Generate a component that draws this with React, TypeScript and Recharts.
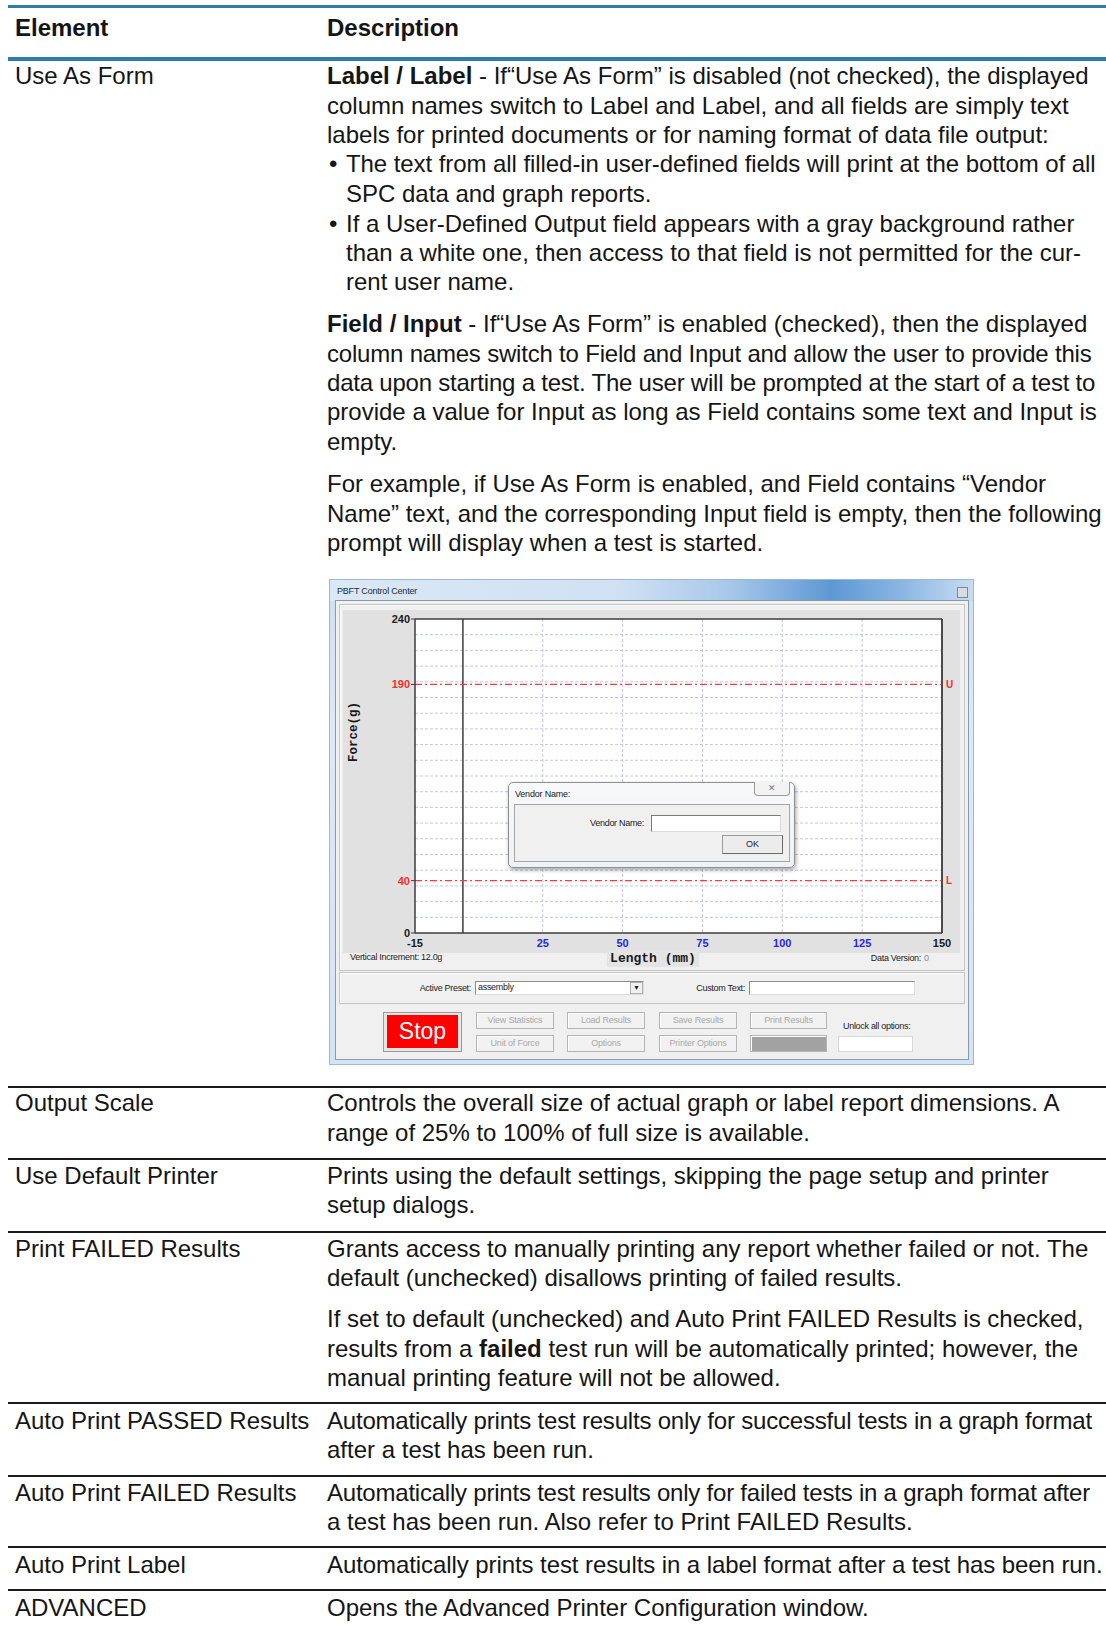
import React from 'react';
import { ComposedChart, Line, XAxis, YAxis, CartesianGrid, ReferenceLine } from 'recharts';

// graph scale of the PBFT screenshot
const lengthDomain: [number, number] = [-15, 150];
const forceDomain: [number, number] = [0, 240];
const lengthTicks = [-15, 25, 50, 75, 100, 125, 150];
const forceTicks = [0, 40, 190, 240];
const blueLengthTicks = [25, 50, 75, 100, 125];
const redForceTicks = [40, 190];
const lengthGrid = [25, 50, 75, 100, 125];
const forceGrid = [12, 24, 36, 48, 60, 72, 84, 96, 108, 120, 132, 144, 156, 168, 180, 192, 204, 216, 228];

// upper / lower force limits across the full length
const limitPoints = [
  { length: -15, upper: 190, lower: 40 },
  { length: 150, upper: 190, lower: 40 },
];

const DOC_FONT = '"Liberation Sans", Arial, Helvetica, sans-serif';
const UI_FONT = '"Liberation Sans", Arial, sans-serif';
const MONO = '"Liberation Mono", "Courier New", monospace';
const LINE = 29.3;

const LengthTick = (props: any) => {
  const { x, y, payload } = props;
  const blue = blueLengthTicks.includes(payload.value);
  return (
    <text x={x} y={y} dy="0.71em" textAnchor="middle" fill={blue ? '#2626e6' : '#1a1a1a'} fontSize={11} fontWeight="bold" fontFamily={UI_FONT}>
      {payload.value}
    </text>
  );
};

const ForceTick = (props: any) => {
  const { x, y, payload } = props;
  const red = redForceTicks.includes(payload.value);
  return (
    <text x={x} y={y} dy="0.355em" textAnchor="end" fill={red ? '#ff2a2a' : '#1a1a1a'} fontSize={11} fontWeight="bold" fontFamily={UI_FONT}>
      {payload.value}
    </text>
  );
};

const ForceLabel = (props: any) => {
  const vb = props.viewBox || { x: 0, y: 0, width: 0, height: 0 };
  const x = vb.x + 11;
  const y = vb.y + 113;
  return (
    <text x={x} y={y} transform={`rotate(-90, ${x}, ${y})`} textAnchor="middle" dominantBaseline="central" fontSize={12.5} fontWeight="bold" fontFamily={MONO} fill="#1a1a1a">
      Force(g)
    </text>
  );
};

const LengthLabel = (props: any) => {
  const vb = props.viewBox || { x: 0, y: 0, width: 0, height: 0 };
  const x = vb.x + 238;
  const y = vb.y + 25;
  return (
    <g>
      <rect x={x - 46} y={y - 8} width={92} height={17} fill="#e4e4e4" />
      <text x={x} y={y} textAnchor="middle" dominantBaseline="central" fontSize={13} fontWeight="bold" fontFamily={MONO} fill="#1a1a1a">
        Length (mm)
      </text>
    </g>
  );
};

const limitTag = (tag: string) => (props: any) => {
  if (props.index !== limitPoints.length - 1) return <g />;
  return (
    <text x={props.x + 4} y={props.y} dy="0.36em" fill="#ff2a2a" fontSize={10} fontWeight="bold" fontFamily={UI_FONT}>
      {tag}
    </text>
  );
};

const ForceGraph = () => (
  <ComposedChart width={617} height={360} data={limitPoints} margin={{ top: 9, right: 18, bottom: 0, left: 0 }}>
    <CartesianGrid fill="#ffffff" stroke="#c4c4f2" strokeDasharray="3 2" horizontalValues={forceGrid} verticalValues={lengthGrid} />
    <XAxis
      type="number"
      dataKey="length"
      domain={lengthDomain}
      ticks={lengthTicks}
      interval={0}
      height={37}
      axisLine={{ stroke: '#3c3c3c', strokeWidth: 1.5 }}
      tickLine={false}
      tickSize={0}
      tickMargin={6}
      tick={<LengthTick />}
      label={<LengthLabel />}
      allowDataOverflow
    />
    <YAxis
      type="number"
      domain={forceDomain}
      ticks={forceTicks}
      interval={0}
      width={72}
      axisLine={{ stroke: '#3c3c3c', strokeWidth: 1.5 }}
      tickLine={{ stroke: '#3c3c3c' }}
      tickSize={4}
      tickMargin={1}
      tick={<ForceTick />}
      label={<ForceLabel />}
      allowDataOverflow
    />
    <ReferenceLine x={0} stroke="#3c3c3c" strokeWidth={1.5} />
    <ReferenceLine x={150} stroke="#4a4a4a" strokeWidth={2} />
    <ReferenceLine y={240} stroke="#3c3c3c" strokeWidth={1.5} />
    <Line dataKey="upper" stroke="#ff3a3a" strokeWidth={1.3} strokeDasharray="7 3 2 3" dot={false} isAnimationActive={false} label={limitTag('U')} />
    <Line dataKey="lower" stroke="#ff3a3a" strokeWidth={1.3} strokeDasharray="7 3 2 3" dot={false} isAnimationActive={false} label={limitTag('L')} />
  </ComposedChart>
);

const abs = (left: number, top: number, width: number, height: number): React.CSSProperties => ({
  position: 'absolute', left, top, width, height, boxSizing: 'border-box',
});

const Btn = ({ x, y, w, h, text, fill }: { x: number; y: number; w: number; h: number; text?: string; fill?: string }) => (
  <div style={{ ...abs(x, y, w, h), border: '1px solid #b4b4b4', background: fill || '#f2f2f2', boxShadow: 'inset 1px 1px 0 #fff', color: '#a9a9a9', fontSize: 9, lineHeight: `${h - 2}px`, textAlign: 'center', fontFamily: UI_FONT, letterSpacing: -0.2 }}>
    {text}
  </div>
);

const UiText = ({ x, y, text, align, color }: { x: number; y: number; text: string; align?: 'left' | 'right'; color?: string }) => (
  <div style={{ position: 'absolute', top: y - 6, height: 12, lineHeight: '12px', fontSize: 9, fontFamily: UI_FONT, color: color || '#222', whiteSpace: 'nowrap', letterSpacing: -0.3, ...(align === 'right' ? { right: 1106 - x, textAlign: 'right' } : { left: x }) }}>
    {text}
  </div>
);

const Screenshot = () => (
  <>
    {/* window frame and title bar */}
    <div style={{ ...abs(329, 579, 645, 486), background: 'linear-gradient(180deg, #cddff2 0%, #dce9f6 30%, #d3e4f4 100%)', border: '1px solid #9fb8d2' }} />
    <div style={{ ...abs(330, 580, 643, 21), background: 'linear-gradient(90deg, #dbe8f5 0%, #cfe1f3 45%, #a8c8ea 62%, #5e98d4 78%, #86b3e2 88%, #c6dcf2 100%)' }} />
    <div style={{ position: 'absolute', left: 337, top: 585, fontSize: 9, lineHeight: '12px', fontFamily: UI_FONT, color: '#1d2a3a', letterSpacing: -0.2 }}>PBFT Control Center</div>
    <div style={{ ...abs(957, 587, 11, 11), border: '1px solid #7c8a98', background: '#d8dde3' }} />
    {/* client area */}
    <div style={{ ...abs(335, 600, 634, 460), background: '#f0f0f0', border: '1px solid #8c9aa8' }} />
    <div style={{ ...abs(339, 604, 626, 367), border: '1px solid #c4c4c4', boxShadow: 'inset 1px 1px 0 #fff' }} />
    <div style={{ ...abs(343, 610, 617, 343), background: '#e1e1e1' }} />
    <div style={{ position: 'absolute', left: 343, top: 610 }}>
      <ForceGraph />
    </div>
    <UiText x={350} y={957} text="Vertical Increment: 12.0g" />
    <UiText x={921} y={958} text="Data Version:" align="right" />
    <UiText x={924} y={958} text="0" color="#8a8a8a" />
    {/* preset row */}
    <div style={{ ...abs(339, 972, 626, 32), border: '1px solid #c4c4c4', boxShadow: 'inset 1px 1px 0 #fff' }} />
    <UiText x={471} y={988} text="Active Preset:" align="right" />
    <div style={{ ...abs(475, 981, 169, 14), background: '#fff', border: '1px solid #8a8a8a', borderRightColor: '#ddd', borderBottomColor: '#ddd' }} />
    <UiText x={478} y={987} text="assembly" />
    <div style={{ ...abs(630, 982, 13, 12), background: '#f0f0f0', border: '1px solid #b0b0b0', fontSize: 7, lineHeight: '10px', textAlign: 'center', color: '#222' }}>▼</div>
    <UiText x={745} y={988} text="Custom Text:" align="right" />
    <div style={{ ...abs(749, 981, 166, 14), background: '#fff', border: '1px solid #8a8a8a', borderRightColor: '#ddd', borderBottomColor: '#ddd' }} />
    {/* buttons */}
    <div style={{ ...abs(383, 1012, 79, 40), border: '1px solid #9a9a9a', background: '#e6e6e6' }} />
    <div style={{ ...abs(387, 1015, 71, 33), background: '#ff0000', color: '#fff', fontSize: 23, lineHeight: '33px', textAlign: 'center', fontFamily: UI_FONT }}>Stop</div>
    <Btn x={476} y={1012} w={78} h={17} text="View Statistics" />
    <Btn x={567} y={1012} w={78} h={17} text="Load Results" />
    <Btn x={659} y={1012} w={78} h={17} text="Save Results" />
    <Btn x={750} y={1012} w={77} h={17} text="Print Results" />
    <Btn x={476} y={1035} w={78} h={17} text="Unit of Force" />
    <Btn x={567} y={1035} w={78} h={17} text="Options" />
    <Btn x={659} y={1035} w={78} h={17} text="Printer Options" />
    <Btn x={750} y={1035} w={77} h={17} fill="#a2a2a2" />
    <UiText x={843} y={1026} text="Unlock all options:" />
    <div style={{ ...abs(838, 1036, 75, 16), background: '#fff', border: '1px solid #d8d8d8' }} />
    {/* prompt dialog */}
    <div style={{ ...abs(508, 782, 287, 86), background: 'linear-gradient(180deg, #f7f9fb 0%, #eef2f5 100%)', border: '1px solid #8e8e8e', borderRadius: 5, boxShadow: '1px 2px 4px rgba(0,0,0,0.35)', zIndex: 2 }}>
      <div style={{ position: 'absolute', left: 6, top: 5, fontSize: 9, lineHeight: '12px', fontFamily: UI_FONT, color: '#1a1a1a', letterSpacing: -0.2 }}>Vendor Name:</div>
      <div style={{ ...abs(245, -1, 36, 14), border: '1px solid #9a9a9a', borderTop: 'none', borderRadius: '0 0 4px 4px', background: '#f3f3f3', fontSize: 9, lineHeight: '12px', textAlign: 'center', color: '#777' }}>✕</div>
      <div style={{ ...abs(5, 21, 276, 58), background: '#f0f0f0', border: '1px solid #a6a6a6' }}>
        <div style={{ position: 'absolute', right: 145, top: 12, fontSize: 9, lineHeight: '12px', fontFamily: UI_FONT, color: '#222', letterSpacing: -0.3, whiteSpace: 'nowrap' }}>Vendor Name:</div>
        <div style={{ ...abs(136, 10, 130, 17), background: '#fff', border: '1px solid #7a7a7a', borderRightColor: '#dcdcdc', borderBottomColor: '#dcdcdc' }} />
        <div style={{ ...abs(207, 30, 61, 19), background: '#ececec', border: '1px solid #9a9a9a', borderRightColor: '#6a6a6a', borderBottomColor: '#6a6a6a', fontSize: 9, lineHeight: '17px', textAlign: 'center', fontFamily: UI_FONT, color: '#222' }}>OK</div>
      </div>
    </div>
  </>
);

const Para = ({ x, y, lines }: { x: number; y: number; lines: React.ReactNode[] }) => (
  <div style={{ position: 'absolute', left: x, top: y - LINE / 2, lineHeight: `${LINE}px`, whiteSpace: 'nowrap' }}>
    {lines.map((l, i) => (
      <div key={i}>{l}</div>
    ))}
  </div>
);

// a line that the original typesetting squeezed a little
const Tight = ({ s, children }: { s: number; children: React.ReactNode }) => <span style={{ letterSpacing: s }}>{children}</span>;

const Bullet = ({ y, lines }: { y: number; lines: React.ReactNode[] }) => (
  <>
    <div style={{ position: 'absolute', left: 329, top: y - LINE / 2, lineHeight: `${LINE}px` }}>•</div>
    <Para x={346} y={y} lines={lines} />
  </>
);

const Rule = ({ y, h, color }: { y: number; h: number; color: string }) => (
  <div style={{ position: 'absolute', left: 8, top: y - h / 2, width: 1098, height: h, background: color }} />
);

const BLUE = '#2f7da6';
const DARK = '#1b1b1b';

export default function App() {
  return (
    <div style={{ position: 'absolute', left: 0, top: 0, width: 1106, height: 1629, background: '#fff', overflow: 'hidden', fontFamily: DOC_FONT, fontSize: 24, color: '#151515' }}>
      <Rule y={6} h={3} color={BLUE} />
      <Para x={15} y={28} lines={[<b>Element</b>]} />
      <Para x={327} y={28} lines={[<b>Description</b>]} />
      <Rule y={59} h={4} color={BLUE} />

      <Para x={15} y={76} lines={['Use As Form']} />
      <Para
        x={327}
        y={76}
        lines={[
          <>
            <b>Label / Label</b> - If“Use As Form” is disabled (not checked), the displayed
          </>,
          'column names switch to Label and Label, and all fields are simply text',
          'labels for printed documents or for naming format of data file output:',
        ]}
      />
      <Bullet y={164} lines={[<Tight s={-0.07}>The text from all filled-in user-defined fields will print at the bottom of all</Tight>, 'SPC data and graph reports.']} />
      <Bullet y={223.3} lines={['If a User-Defined Output field appears with a gray background rather', 'than a white one, then access to that field is not permitted for the cur-', 'rent user name.']} />
      <Para
        x={327}
        y={324}
        lines={[
          <>
            <b>Field / Input</b> - If“Use As Form” is enabled (checked), then the displayed
          </>,
          <Tight s={-0.2}>column names switch to Field and Input and allow the user to provide this</Tight>,
          <Tight s={-0.22}>data upon starting a test. The user will be prompted at the start of a test to</Tight>,
          'provide a value for Input as long as Field contains some text and Input is',
          'empty.',
        ]}
      />
      <Para
        x={327}
        y={484}
        lines={[
          'For example, if Use As Form is enabled, and Field contains “Vendor',
          'Name” text, and the corresponding Input field is empty, then the following',
          'prompt will display when a test is started.',
        ]}
      />

      <Screenshot />

      <Rule y={1087} h={2} color={DARK} />
      <Para x={15} y={1103} lines={['Output Scale']} />
      <Para x={327} y={1103} lines={['Controls the overall size of actual graph or label report dimensions. A', 'range of 25% to 100% of full size is available.']} />

      <Rule y={1159} h={2} color={DARK} />
      <Para x={15} y={1175.6} lines={['Use Default Printer']} />
      <Para x={327} y={1175.6} lines={['Prints using the default settings, skipping the page setup and printer', 'setup dialogs.']} />

      <Rule y={1231.7} h={2} color={DARK} />
      <Para x={15} y={1248.3} lines={['Print FAILED Results']} />
      <Para x={327} y={1248.3} lines={['Grants access to manually printing any report whether failed or not. The', 'default (unchecked) disallows printing of failed results.']} />
      <Para
        x={327}
        y={1319}
        lines={[
          'If set to default (unchecked) and Auto Print FAILED Results is checked,',
          <>
            results from a <b>failed</b> test run will be automatically printed; however, the
          </>,
          'manual printing feature will not be allowed.',
        ]}
      />

      <Rule y={1403} h={2} color={DARK} />
      <Para x={15} y={1420.7} lines={['Auto Print PASSED Results']} />
      <Para x={327} y={1420.7} lines={[<Tight s={-0.2}>Automatically prints test results only for successful tests in a graph format</Tight>, 'after a test has been run.']} />

      <Rule y={1475.7} h={2} color={DARK} />
      <Para x={15} y={1492.3} lines={['Auto Print FAILED Results']} />
      <Para x={327} y={1492.3} lines={[<Tight s={-0.22}>Automatically prints test results only for failed tests in a graph format after</Tight>, 'a test has been run. Also refer to Print FAILED Results.']} />

      <Rule y={1547.4} h={2} color={DARK} />
      <Para x={15} y={1565} lines={['Auto Print Label']} />
      <Para x={327} y={1565} lines={[<Tight s={-0.08}>Automatically prints test results in a label format after a test has been run.</Tight>]} />

      <Rule y={1590} h={2} color={DARK} />
      <Para x={15} y={1607.6} lines={['ADVANCED']} />
      <Para x={327} y={1607.6} lines={['Opens the Advanced Printer Configuration window.']} />
    </div>
  );
}
